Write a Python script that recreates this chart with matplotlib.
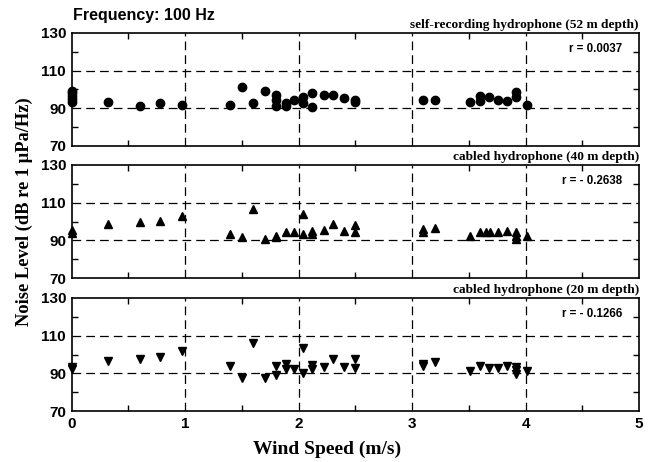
import matplotlib
matplotlib.use('Agg')
import matplotlib.pyplot as plt
from matplotlib.ticker import MultipleLocator

plt.rcParams['font.family'] = 'Liberation Sans'
plt.rcParams['font.weight'] = 'bold'

# self-recording hydrophone, 52 m
wind_52 = [0, 0, 0, 0, 0, 0.32, 0.60, 0.78, 0.97, 1.40, 1.50, 1.60, 1.70,
           1.80, 1.80, 1.80, 1.885, 1.885, 1.96, 2.04, 2.04, 2.12, 2.12,
           2.22, 2.30, 2.40, 2.50, 2.50, 3.10, 3.20, 3.51, 3.60, 3.60,
           3.68, 3.76, 3.84, 3.92, 3.92, 4.01]
nl_52 = [93.5, 95, 96.5, 98, 99, 93.1, 91.2, 92.8, 91.6, 91.7, 101.3, 93.0, 99.0,
         97.1, 94.3, 91.4, 92.6, 91.2, 94.3, 96.1, 92.6, 98.2, 90.5,
         96.8, 97.0, 95.4, 94.3, 93.5, 94.5, 94.2, 93.1, 96.4, 94.0,
         96.1, 94.3, 93.7, 98.7, 96.1, 91.9]

# cabled hydrophone, 40 m
wind_40 = [0, 0, 0.32, 0.60, 0.78, 0.97, 1.40, 1.50, 1.60, 1.70, 1.80, 1.80,
           1.885, 1.96, 2.04, 2.04, 2.12, 2.12, 2.22, 2.30, 2.40, 2.50, 2.50,
           3.10, 3.10, 3.20, 3.51, 3.60, 3.65, 3.69, 3.76, 3.84, 3.92, 3.92,
           3.92, 4.01]
nl_40 = [95.6, 93.9, 98.8, 99.5, 100.2, 103.0, 93.3, 91.9, 106.5, 91.0, 92.5, 91.6,
         94.6, 94.6, 103.9, 93.5, 95.1, 93.3, 95.6, 98.8, 95.1, 97.9, 94.7,
         96.0, 94.7, 96.7, 92.1, 94.7, 94.5, 94.4, 94.6, 95.1, 94.7, 92.5,
         90.7, 92.1]

# cabled hydrophone, 20 m
wind_20 = [0, 0, 0.32, 0.60, 0.78, 0.97, 1.40, 1.50, 1.60, 1.70, 1.80, 1.80,
           1.885, 1.885, 1.96, 2.04, 2.04, 2.12, 2.12, 2.22, 2.30, 2.40, 2.50,
           2.50, 3.10, 3.10, 3.20, 3.51, 3.60, 3.68, 3.76, 3.84, 3.92, 3.92,
           3.92, 4.01]
nl_20 = [93.5, 92.1, 96.4, 97.8, 98.7, 101.8, 93.8, 87.7, 106.0, 87.7, 94.2, 89.0,
         94.9, 92.1, 92.3, 103.6, 90.3, 94.7, 92.3, 93.5, 97.8, 93.3, 97.5,
         93.0, 95.2, 94.0, 96.0, 91.4, 93.8, 93.0, 93.0, 93.8, 93.5, 91.7,
         89.6, 91.2]

panels = [
    (wind_52, nl_52, 'o', 'self-recording hydrophone (52 m depth)', 'r = 0.0037'),
    (wind_40, nl_40, '^', 'cabled hydrophone (40 m depth)', 'r = - 0.2638'),
    (wind_20, nl_20, 'v', 'cabled hydrophone (20 m depth)', 'r = - 0.1266'),
]

fig = plt.figure(figsize=(6.57, 4.62), dpi=100)
left, width = 0.109, 0.8636
bottoms = [0.684, 0.398, 0.110]
height = 0.245

for i, (x, y, mk, title, rtxt) in enumerate(panels):
    ax = fig.add_axes([left, bottoms[i], width, height])
    ax.plot(x, y, linestyle='none', marker=mk, color='black', markersize=6,
            clip_on=False, zorder=3)
    ax.set_xlim(0, 5)
    ax.set_ylim(70, 130)
    ax.xaxis.set_major_locator(MultipleLocator(1))
    ax.xaxis.set_minor_locator(MultipleLocator(0.5))
    ax.yaxis.set_major_locator(MultipleLocator(20))
    ax.yaxis.set_minor_locator(MultipleLocator(10))
    ax.tick_params(which='both', direction='in', top=True, right=True, width=1)
    ax.tick_params(which='major', length=0, labelsize=11, pad=4)
    ax.tick_params(which='minor', length=4)
    for xv in [1, 2, 3, 4]:
        ax.axvline(xv, color='black', linestyle=(0, (7, 4)), linewidth=0.9, zorder=0)
    for yv in [90, 110]:
        ax.axhline(yv, color='black', linestyle=(0, (7, 4)), linewidth=0.9, zorder=0)
    for s in ax.spines.values():
        s.set_linewidth(1.2)
    ax.set_yticks([70, 90, 110, 130])
    for lab in ax.get_yticklabels() + ax.get_xticklabels():
        lab.set_fontweight('bold')
    if i < 2:
        ax.tick_params(labelbottom=False)
    ax.text(1.0, 1.02, title, transform=ax.transAxes, ha='right', va='bottom',
            fontsize=9.6, fontweight='bold', family='Liberation Serif')
    ax.text(0.970, 0.91, rtxt, transform=ax.transAxes, ha='right', va='top',
            fontsize=8.3, fontweight='bold')

fig.text(0.111, 0.957, 'Frequency: 100 Hz', fontsize=11.5, fontweight='bold',
         ha='left', va='baseline')
fig.text(0.037, 0.543, 'Noise Level (dB re 1 \u03bcPa/Hz)', rotation=90,
         fontsize=13.3, fontweight='bold', family='Liberation Serif',
         ha='center', va='center')
fig.text(0.498, 0.017, 'Wind Speed (m/s)', fontsize=14, fontweight='bold',
         family='Liberation Serif', ha='center', va='baseline')

fig.savefig('out.png', dpi=100)
